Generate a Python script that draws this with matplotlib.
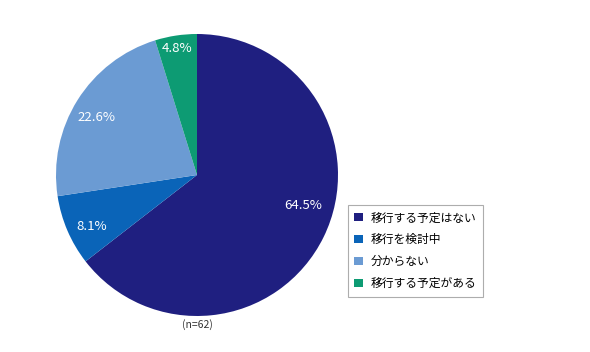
import matplotlib
matplotlib.use("Agg")
import matplotlib.pyplot as plt
import numpy as np

plt.rcParams['font.family'] = ['Noto Sans CJK JP', 'DejaVu Sans']

# data
labels = ['移行する予定はない', '移行を検討中', '分からない', '移行する予定がある']
values = [64.5, 8.1, 22.6, 4.8]
colors = ['#1f1f80', '#0a64b8', '#6b9bd3', '#0d9b73']
n_label = '(n=62)'

fig = plt.figure(figsize=(5.9, 3.52), dpi=100)
cx, cy, r = 197, 175, 141
ax = fig.add_axes([(cx - r) / 590, (352 - cy - r) / 352, 2 * r / 590, 2 * r / 352])

wedges, texts, autotexts = ax.pie(values, colors=colors, startangle=90, counterclock=False,
                                  autopct='%.1f%%', pctdistance=0.82,
                                  textprops=dict(color='white', fontsize=9.5))
ax.set_aspect('auto')
ax.set_xlim(-1, 1)
ax.set_ylim(-1, 1)

# label placement tweaks (radius, angle in degrees)
label_pos = [(0.78, -16), (0.83, 206), (0.82, 150), (0.91, 99)]
for t, (rr, ang) in zip(autotexts, label_pos):
    t.set_position((rr * np.cos(np.radians(ang)), rr * np.sin(np.radians(ang))))

fig.text(cx / 590, 1 - 325 / 352, n_label, ha='center', va='center', fontsize=7.5, color='#333333')

leg = fig.legend(wedges, labels, loc='upper left', bbox_to_anchor=(348 / 590, 1 - 205 / 352),
                 fontsize=8.5, frameon=True, fancybox=False, handlelength=0.7, handleheight=0.7,
                 handletextpad=0.7, labelspacing=0.75, borderpad=0.55, borderaxespad=0)
leg.get_frame().set_edgecolor('#999999')
leg.get_frame().set_linewidth(0.8)

fig.savefig('out.png', dpi=100)
